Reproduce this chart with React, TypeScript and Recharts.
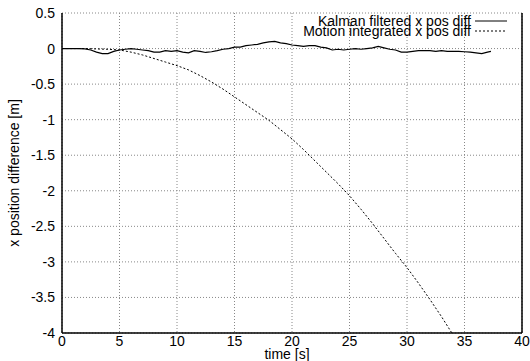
import { LineChart, Line, XAxis, YAxis, CartesianGrid } from 'recharts'

const SERIES_NAMES = ['Kalman filtered x pos diff', 'Motion integrated x pos diff']

const X_TICKS = [0, 5, 10, 15, 20, 25, 30, 35, 40]
const Y_TICKS = [-4, -3.5, -3, -2.5, -2, -1.5, -1, -0.5, 0, 0.5]

// Kalman filtered x position difference, time [s]
const kalmanTime = [
  0, 0.5, 1, 1.5, 2, 2.5, 3, 3.5, 4, 4.5, 5, 5.5, 6, 6.5, 7, 7.5, 8, 8.5, 9, 9.5,
  10, 10.5, 11, 11.5, 12, 12.5, 13, 13.5, 14, 14.5, 15, 15.5, 16, 16.5, 17, 17.5,
  18, 18.5, 19, 19.5, 20, 20.5, 21, 21.5, 22, 22.5, 23, 23.5, 24, 24.5, 25, 25.5,
  26, 26.5, 27, 27.5, 28, 28.5, 29, 29.5, 30, 30.5, 31, 31.5, 32, 32.5, 33, 33.5,
  34, 34.5, 35, 35.5, 36, 36.5, 37, 37.3,
]
const kalmanDiff = [
  0, 0, 0, 0, -0.005, -0.02, -0.05, -0.07, -0.07, -0.04, -0.02, -0.01, 0, -0.01,
  -0.02, -0.03, -0.05, -0.05, -0.03, -0.04, -0.03, -0.05, -0.06, -0.03, -0.04,
  -0.055, -0.045, -0.03, -0.01, 0, 0.02, 0.02, 0.04, 0.05, 0.06, 0.08, 0.095, 0.1,
  0.08, 0.07, 0.05, 0.04, 0.03, 0.04, 0.04, 0.02, 0.01, -0.02, -0.01, -0.02, -0.01,
  0, -0.01, 0, 0.01, 0.03, 0.01, -0.01, -0.02, -0.05, -0.05, -0.04, -0.03, -0.03,
  -0.03, -0.04, -0.03, -0.04, -0.04, -0.04, -0.045, -0.05, -0.06, -0.07, -0.05, -0.04,
]

// Motion integrated x position difference
const motionTime = [
  0, 1, 2, 3, 4, 5, 6, 7, 8, 9, 10, 11, 12, 13, 14, 15, 16, 17, 18, 19, 20, 21, 22,
  23, 24, 25, 26, 27, 28, 29, 30, 31, 32, 33, 33.9,
]
const motionDiff = [
  0, 0, 0, -0.005, -0.01, -0.02, -0.05, -0.09, -0.14, -0.19, -0.24, -0.3, -0.38,
  -0.47, -0.57, -0.68, -0.79, -0.9, -1.01, -1.14, -1.27, -1.42, -1.58, -1.74, -1.9,
  -2.07, -2.26, -2.46, -2.67, -2.88, -3.08, -3.3, -3.53, -3.77, -4.0,
]

const kalmanData = kalmanTime.map((t, i) => ({ t, v: kalmanDiff[i] }))
const motionData = motionTime.map((t, i) => ({ t, v: motionDiff[i] }))

const FONT = '"Liberation Sans", Arial, Helvetica, sans-serif'
const tickStyle = { fontSize: 14, fill: '#000', fontFamily: FONT }

function LegendBox() {
  const dashes = ['none', '2 2']
  return (
    <div
      style={{
        position: 'absolute',
        top: 16,
        right: 19,
        fontFamily: FONT,
        fontSize: 14,
        lineHeight: '10px',
        color: '#000',
      }}
    >
      {SERIES_NAMES.map((name, i) => (
        <div key={name} style={{ display: 'flex', alignItems: 'center', justifyContent: 'flex-end', height: 10 }}>
          <span>{name}</span>
          <svg width={36} height={10} style={{ marginLeft: 4 }}>
            <line x1={0} x2={32} y1={5} y2={5} stroke="#000" strokeWidth={1} strokeDasharray={dashes[i]} />
          </svg>
        </div>
      ))}
    </div>
  )
}

export default function App() {
  return (
    <div style={{ position: 'absolute', left: 0, top: 0, width: 530, height: 361, background: '#fff' }}>
      <LineChart width={530} height={361} margin={{ top: 13, right: 0, bottom: 0, left: 0 }}>
        <CartesianGrid stroke="#888" strokeDasharray="1 2" />
        <XAxis
          dataKey="t"
          type="number"
          domain={[0, 40]}
          ticks={X_TICKS}
          height={28}
          tick={tickStyle}
          tickLine={false}
          tickSize={0}
          tickMargin={3}
          axisLine={{ stroke: '#000', strokeWidth: 1.5 }}
          label={{ value: 'time [s]', position: 'insideBottom', offset: 2, dx: -5, style: tickStyle }}
        />
        <XAxis
          xAxisId="top"
          orientation="top"
          type="number"
          domain={[0, 40]}
          ticks={X_TICKS}
          height={0}
          tick={false}
          tickLine={false}
          axisLine={{ stroke: '#000', strokeWidth: 1.5 }}
        />
        <YAxis
          type="number"
          domain={[-4, 0.5]}
          ticks={Y_TICKS}
          width={62}
          tick={tickStyle}
          tickLine={false}
          tickSize={0}
          tickMargin={7}
          axisLine={{ stroke: '#000', strokeWidth: 1.5 }}
          label={{
            value: 'x position difference [m]',
            angle: -90,
            position: 'insideLeft',
            offset: 14,
            style: { ...tickStyle, textAnchor: 'middle' },
          }}
        />
        <YAxis
          yAxisId="right"
          orientation="right"
          type="number"
          domain={[-4, 0.5]}
          ticks={Y_TICKS}
          width={8}
          tick={false}
          tickLine={false}
          axisLine={{ stroke: '#000', strokeWidth: 1.5 }}
        />
        <Line
          data={kalmanData}
          dataKey="v"
          name={SERIES_NAMES[0]}
          type="linear"
          stroke="#000"
          strokeWidth={1.2}
          dot={false}
          isAnimationActive={false}
        />
        <Line
          data={motionData}
          dataKey="v"
          name={SERIES_NAMES[1]}
          type="linear"
          stroke="#000"
          strokeWidth={1}
          strokeDasharray="2 2"
          dot={false}
          isAnimationActive={false}
        />
      </LineChart>
      <LegendBox />
    </div>
  )
}
